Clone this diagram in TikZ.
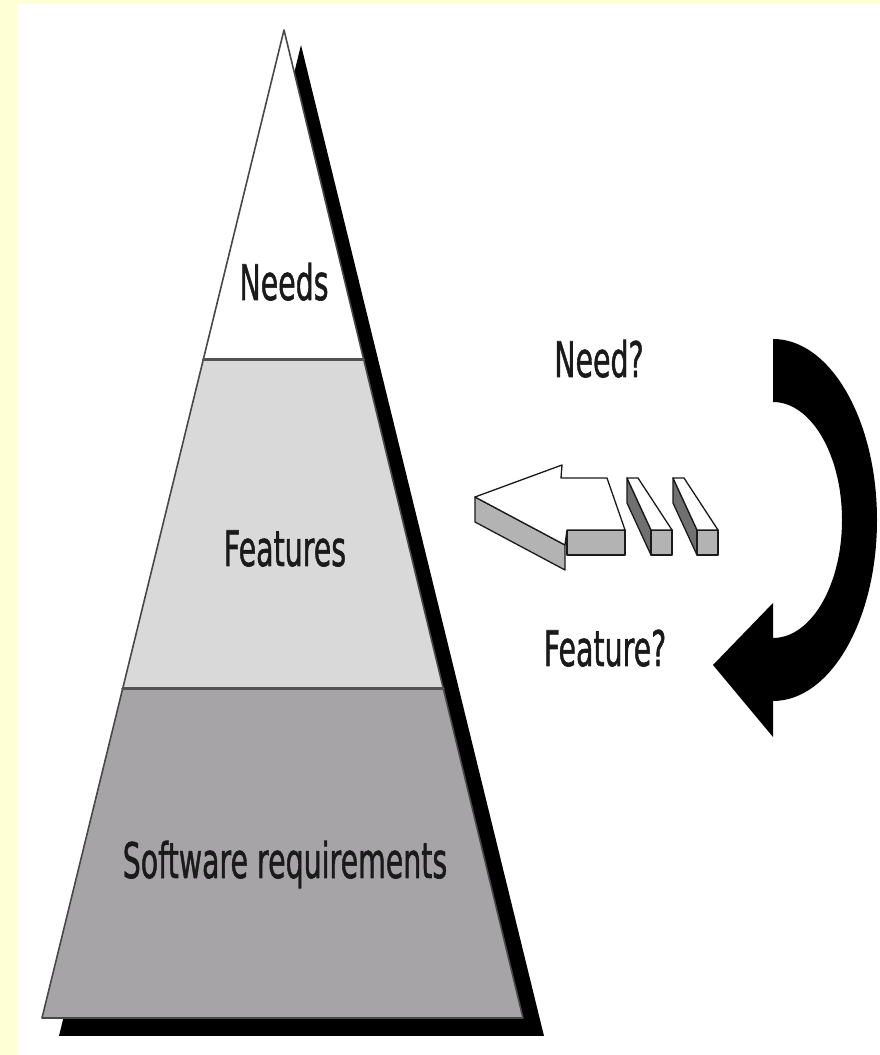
\documentclass[tikz,border=0pt]{standalone}
\usepackage{fontspec}
\setmainfont{DejaVu Sans}
\newfontfamily\tagfont{DejaVu Sans}[FakeBold=1.4]
\usetikzlibrary{calc}
\definecolor{ink}{HTML}{1A1A1A}
\definecolor{paper}{HTML}{FFFFD6}
\definecolor{bandlight}{HTML}{D9D9D9}
\definecolor{banddark}{HTML}{A6A4A7}
\definecolor{facegray}{HTML}{B3B3B3}
\definecolor{sidegray}{HTML}{707070}
\tikzset{
  every picture/.style={line cap=round, line join=round},
  layer/.style={draw=ink!80, line width=1.6pt},
  divider/.style={draw=ink!75, line width=3pt},
  tag/.style={
    font=\tagfont\fontsize{49}{52}\selectfont,
    text=ink,
    xscale=0.58,
    transform shape,
    anchor=base,
    inner sep=0pt
  },
  solid3d/.style={draw=ink, line width=1.3pt}
}

\begin{document}
\begin{tikzpicture}[x=1pt, y=1pt]
  % Page and frame
  \useasboundingbox (0,0) rectangle (880,1055);
  \fill[paper] (0,0) rectangle (880,1055);
  \fill[white] (17,0) rectangle (880,1051);

  % Pyramid corners and band edges
  \coordinate (apex) at (284,1025);
  \coordinate (bl) at (42,37);
  \coordinate (br) at (523,37);
  \coordinate (l1) at ($(apex)!1/3!(bl)$);
  \coordinate (r1) at ($(apex)!1/3!(br)$);
  \coordinate (l2) at ($(apex)!2/3!(bl)$);
  \coordinate (r2) at ($(apex)!2/3!(br)$);

  % Drop shadow
  \fill[black] ($(apex)+(17,-15)$) -- ($(bl)+(17,-18)$) -- ($(br)+(21,-18)$) -- cycle;

  % Bands
  \fill[white] (apex) -- (l1) -- (r1) -- cycle;
  \fill[bandlight] (l1) -- (l2) -- (r2) -- (r1) -- cycle;
  \fill[banddark] (l2) -- (bl) -- (br) -- (r2) -- cycle;
  \draw[layer] (apex) -- (bl) -- (br) -- cycle;
  \draw[divider] (l1) -- (r1);
  \draw[divider] (l2) -- (r2);

  \node[tag] (needs) at (284,755) {Needs};
  \node[tag] (features) at (285,489) {Features};
  \node[tag] (softreq) at (285,177) {Software requirements};

  % Questions
  \node[tag] (needq) at (599,678) {Need?};
  \node[tag] (featq) at (605,389) {Feature?};

  % Turning arrow
  \fill[black] (773,716) arc[start angle=90, end angle=-90, x radius=104pt, y radius=181pt]
    -- (773,318) -- (713,390) -- (773,452) -- (773,417)
    arc[start angle=-90, end angle=90, x radius=69pt, y radius=118pt] -- cycle;

  % Flat block arrow
  \coordinate (tip) at (475,558);
  \coordinate (barbup) at (562,590);
  \coordinate (notchup) at (561,577);
  \coordinate (shaftback) at (607,577);
  \coordinate (shaftfront) at (625,525);
  \coordinate (notchlow) at (567,525);
  \coordinate (barblow) at (565,510);
  \filldraw[solid3d, fill=facegray] (notchlow) -- (shaftfront) -- ++(0,-25)
    -- ($(notchlow)+(0,-25)$) -- cycle;
  \filldraw[solid3d, fill=facegray] (tip) -- (barblow) -- ++(0,-25)
    -- ($(tip)+(0,-25)$) -- cycle;
  \filldraw[solid3d, fill=white] (tip) -- (barbup) -- (notchup) -- (shaftback)
    -- (shaftfront) -- (notchlow) -- (barblow) -- cycle;

  % Trailing bars
  \foreach \dx in {0,46} {
    \filldraw[solid3d, fill=sidegray] ({627+\dx},577) -- ({651+\dx},525)
      -- ({651+\dx},500) -- ({627+\dx},552) -- cycle;
    \filldraw[solid3d, fill=facegray] ({651+\dx},525) -- ({672+\dx},525)
      -- ({672+\dx},500) -- ({651+\dx},500) -- cycle;
    \filldraw[solid3d, fill=white] ({627+\dx},577) -- ({638+\dx},577)
      -- ({672+\dx},525) -- ({651+\dx},525) -- cycle;
  }
\end{tikzpicture}
\end{document}
